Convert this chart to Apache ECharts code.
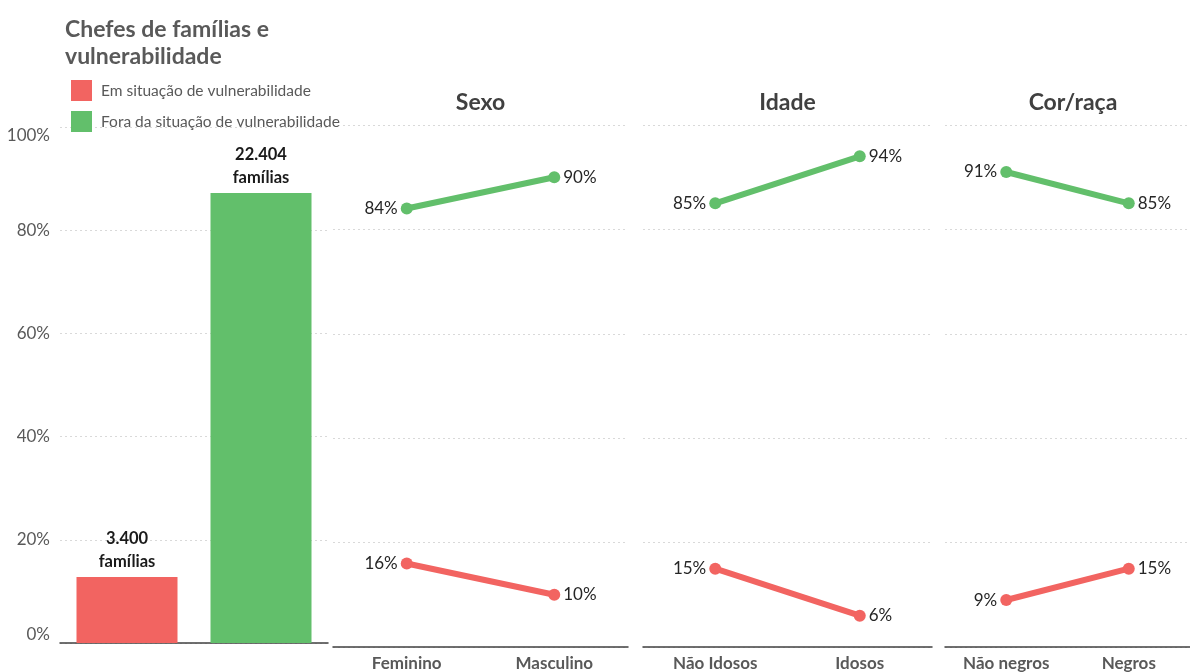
<!DOCTYPE html>
<html>
<head>
<meta charset="utf-8">
<script src="https://cdn.jsdelivr.net/npm/echarts@6/dist/echarts.min.js"></script>
<style>
html,body{margin:0;padding:0;background:#fff;}
#chart{width:1190px;height:672px;}
</style>
</head>
<body>
<div id="chart"></div>
<script>
// ---- data ----
const seriesNames = ['Em situação de vulnerabilidade', 'Fora da situação de vulnerabilidade'];
const barCategories = ['Em situação', 'Fora da situação'];
const barShares = [12.8, 87.2];
const barCounts = ['3.400', '22.404'];
const panelTitles = ['Sexo', 'Idade', 'Cor/raça'];
const sexoCats = ['Feminino', 'Masculino'];
const sexoVuln = [16, 10];
const sexoFora = [84, 90];
const idadeCats = ['Não Idosos', 'Idosos'];
const idadeVuln = [15, 6];
const idadeFora = [85, 94];
const corCats = ['Não negros', 'Negros'];
const corVuln = [9, 15];
const corFora = [91, 85];
const yMin = 0, yMax = 100, yStep = 20;

// ---- styles ----
const RED = '#F26461';
const GREEN = '#62BF6B';
const FONT = 'Lato, "Open Sans", sans-serif';
const AXIS_COLOR = '#404040';
const GRID_COLOR = '#d9d9d9';

const chart = echarts.init(document.getElementById('chart'));

const grids = [
  {left: 60, width: 268, top: 127, bottom: 29},
  {left: 333, width: 295, top: 125, bottom: 25},
  {left: 643, width: 289, top: 125, bottom: 25},
  {left: 945, width: 255, top: 125, bottom: 25}
];

const panelCats = [barCategories, sexoCats, idadeCats, corCats];
const xAxes = panelCats.map((cats, i) => ({
  type: 'category', gridIndex: i, data: cats, boundaryGap: true,
  axisTick: {show: false},
  axisLine: {show: true, lineStyle: {color: AXIS_COLOR, width: 1.5}},
  axisLabel: {show: i > 0, color: '#595959', fontSize: 17, fontWeight: 'bold', fontFamily: FONT, margin: 8}
}));
const yAxes = grids.map((g, i) => ({
  type: 'value', gridIndex: i, min: yMin, max: yMax, interval: yStep,
  axisLine: {show: false}, axisTick: {show: false},
  splitLine: {show: true, lineStyle: {color: GRID_COLOR, type: [2, 3], width: 1.2}},
  axisLabel: {
    show: i === 0, color: '#595959', fontSize: 17, fontFamily: FONT, margin: 10,
    formatter: v => v + '%',
    verticalAlignMaxLabel: 'top', verticalAlignMinLabel: 'bottom'
  }
}));

function barSeries(k) {
  const data = barShares.map((v, j) => (j === k ? v : '-'));
  return {
    name: seriesNames[k], type: 'bar', xAxisIndex: 0, yAxisIndex: 0,
    data: data, barWidth: 101, barGap: '-100%',
    itemStyle: {color: k === 0 ? RED : GREEN},
    label: {
      show: true, position: 'top', distance: 4,
      formatter: () => barCounts[k] + '\nfamílias',
      color: '#1a1a1a', fontSize: 16.5, fontWeight: 'bold', fontFamily: FONT, lineHeight: 23
    }
  };
}

function lineSeries(panel, k, values) {
  return {
    name: seriesNames[k], type: 'line', xAxisIndex: panel, yAxisIndex: panel,
    data: values.map((v, j) => ({
      value: v,
      label: {position: j === 0 ? 'left' : 'right'}
    })),
    symbol: 'circle', symbolSize: 12,
    lineStyle: {color: k === 0 ? RED : GREEN, width: 6},
    itemStyle: {color: k === 0 ? RED : GREEN},
    label: {show: true, formatter: p => p.value + '%', color: '#262626', fontSize: 17, fontFamily: FONT, distance: 3},
    z: 3
  };
}

const option = {
  backgroundColor: '#ffffff',
  animation: false,
  textStyle: {fontFamily: FONT},
  title: {
    text: 'Chefes de famílias e\nvulnerabilidade',
    left: 60, top: 11,
    textStyle: {fontSize: 23, fontWeight: 'bold', color: '#595959', fontFamily: FONT, lineHeight: 27}
  },
  legend: {
    orient: 'vertical', left: 66, top: 75, itemWidth: 21, itemHeight: 21, itemGap: 10,
    icon: 'rect', data: seriesNames, selectedMode: false,
    textStyle: {fontSize: 15.5, color: '#595959', fontFamily: FONT, padding: [0, 0, 0, 4]}
  },
  grid: grids,
  xAxis: xAxes,
  yAxis: yAxes,
  graphic: panelTitles.map((t, i) => ({
    type: 'text', x: grids[i + 1].left + (i === 2 ? 128 : grids[i + 1].width / 2), y: 103,
    style: {text: t, textAlign: 'center', textVerticalAlign: 'middle', fontSize: 23, fontWeight: 'bold', fill: '#404040', fontFamily: FONT}
  })),
  series: [
    barSeries(0), barSeries(1),
    lineSeries(1, 0, sexoVuln), lineSeries(1, 1, sexoFora),
    lineSeries(2, 0, idadeVuln), lineSeries(2, 1, idadeFora),
    lineSeries(3, 0, corVuln), lineSeries(3, 1, corFora)
  ]
};
chart.setOption(option);
</script>
</body>
</html>
